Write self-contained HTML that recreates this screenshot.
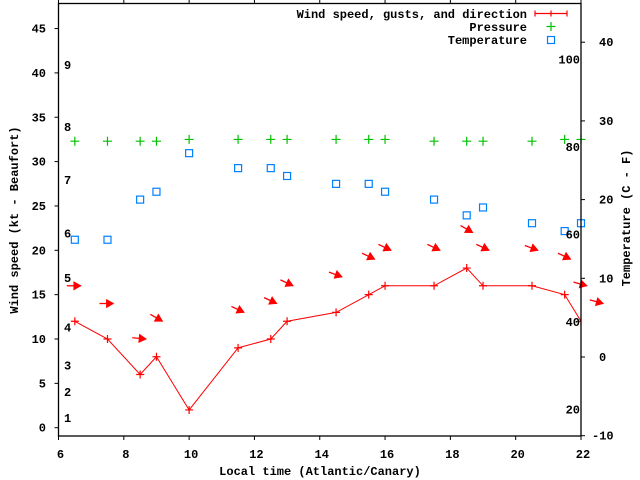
<!DOCTYPE html>
<html><head><meta charset="utf-8"><style>
html,body{margin:0;padding:0;background:#fff;}
svg{display:block;font-family:"Liberation Mono",monospace;font-weight:bold;font-size:12px;}
</style></head><body>
<svg id="chart" width="640" height="480" viewBox="0 0 640 480" xmlns="http://www.w3.org/2000/svg">
<rect x="0" y="0" width="640" height="480" fill="#fff"/>
<defs><clipPath id="clip"><rect x="58.5" y="3.5" width="522.5" height="432.5"/></clipPath></defs>
<g id="grid"></g>
<g id="marks"></g>
<g id="axes"></g>
</svg>
<script>
const times = [6.5,7.5,8.5,9,10,11.5,12.5,13,14.5,15.5,16,17.5,18.5,19,20.5,21.5,22];
const windKt = [12,10,6,8,2,9,10,12,13,15,16,16,18,16,16,15,12];
const pressureKt = [32.3,32.3,32.3,32.3,32.5,32.5,32.5,32.5,32.5,32.5,32.5,32.3,32.3,32.3,32.3,32.5,32.5];
const tempC = [14.9,14.9,20,21,25.9,24,24,23,22,22,21,20,18,19,17,16,17];
const arrowTimes = [6.5,7.5,8.5,9,11.5,12.5,13,14.5,15.5,16,17.5,18.5,19,20.5,21.5,22,22.5];
const arrowKt = [16,14,10,12,13,14,16,17,19,20,20,22,20,20,19,16,14];
const arrowAngle = [0,0,5,30,25,25,25,20,25,25,25,30,25,20,25,15,15];
const xTicks = [6,8,10,12,14,16,18,20,22];
const yTicks = [0,5,10,15,20,25,30,35,40,45];
const y2Ticks = [-10,0,10,20,30,40];
const fahrenheit = [20,40,60,80,100];
const beaufortLabels = ['1','2','3','4','5','6','7','8','9'];
const beaufortKt = [1.1,4,7,11.3,16.9,21.9,27.9,33.9,40.9];

const X0=58.5,X1=581,Y0=436,Y1=3.5;
const xs=t=>X0+(t-6)/16*(X1-X0);
const ys=k=>427.7-k*8.87;
const yc=c=>357-c*7.87;
const NS="http://www.w3.org/2000/svg";
function mk(tag,attrs,parent,text){const e=document.createElementNS(NS,tag);for(const k in attrs)e.setAttribute(k,attrs[k]);if(text!==undefined)e.textContent=text;parent.appendChild(e);return e;}
const axes=document.getElementById('axes'), marks=document.getElementById('marks');
const clipG=mk('g',{'clip-path':'url(#clip)'},marks);

const frame=mk('rect',{x:X0,y:Y1,width:X1-X0,height:Y0-Y1,fill:'none',stroke:'#000','stroke-width':1.3},axes);



xTicks.forEach(t=>{
  const x=xs(t);
  mk('line',{x1:x,y1:Y0,x2:x,y2:Y0+4,stroke:'#000'},axes);
  mk('line',{x1:x,y1:Y1,x2:x,y2:Y1-4,stroke:'#000'},axes);
  const l=mk('text',{x:x+2,y:458,'text-anchor':'middle'},axes,String(t));
  
  
});
yTicks.forEach(v=>{
  const y=ys(v);
  mk('line',{x1:X0,y1:y,x2:X0-4,y2:y,stroke:'#000'},axes);
  const l=mk('text',{x:46,y:y+4,'text-anchor':'end'},axes,String(v));
  
  
});
y2Ticks.forEach(v=>{
  const y=yc(v);
  mk('line',{x1:X1,y1:y,x2:X1+4,y2:y,stroke:'#000'},axes);
  const l=mk('text',{x:v<0?592:599,y:y+4},axes,String(v));
  
  
});
fahrenheit.forEach(f=>{
  const c=(f-32)*5/9;
  const l=mk('text',{x:580,y:yc(c)+4,'text-anchor':'end'},axes,String(f));
  
  
});
beaufortLabels.forEach((b,i)=>{
  const l=mk('text',{x:64,y:ys(beaufortKt[i])+4},axes,b);
  
  
});

const pts=times.map((t,i)=>xs(t)+','+ys(windKt[i])).join(' ');
const wl=mk('polyline',{points:pts,fill:'none',stroke:'#f00','stroke-width':1},clipG);


times.forEach((t,i)=>{
  const x=xs(t),y=ys(windKt[i]);
  const g=mk('path',{d:`M${x-4},${y}h8M${x},${y-4}v8`,stroke:'#f00','stroke-width':1.2},clipG);
  
  
});
arrowTimes.forEach((t,i)=>{
  const a=arrowAngle[i]*Math.PI/180;
  const hx=xs(t)+6,hy=ys(arrowKt[i]);
  const tx=hx-14*Math.cos(a),ty=hy-14*Math.sin(a);
  const g=mk('g',{},marks);
  
  
  mk('line',{x1:tx,y1:ty,x2:hx,y2:hy,stroke:'#f00','stroke-width':1.3},g);
  const ux=Math.cos(a),uy=Math.sin(a);
  const bx=hx-7*ux,by=hy-7*uy;
  mk('polygon',{points:`${hx},${hy} ${bx-4*uy},${by+4*ux} ${bx+4*uy},${by-4*ux}`,fill:'#f00',stroke:'#f00','stroke-width':0.8},g);
});
times.forEach((t,i)=>{
  const x=xs(t),y=ys(pressureKt[i]);
  const p=mk('path',{d:`M${x-4.5},${y}h9M${x},${y-4.5}v9`,stroke:'#00c000','stroke-width':1.2},marks);
  
  
});
times.forEach((t,i)=>{
  const x=xs(t),y=yc(tempC[i]);
  const s=mk('rect',{x:x-3.5,y:y-3.5,width:7,height:7,fill:'none',stroke:'#0080ff','stroke-width':1.2},marks);
  
  
});

const legend=mk('g',{},axes);


[['Wind speed, gusts, and direction',14],['Pressure',27],['Temperature',40]].forEach(([txt,y])=>{
  const l=mk('text',{x:527,y:y+4,'text-anchor':'end'},legend,txt);
  
  
});
mk('path',{d:'M535,13.5h32M535,10.5v6M567,10.5v6M551,10.5v6',stroke:'#f00','stroke-width':1.2},legend);
mk('path',{d:'M546.5,26.5h9M551,22v9',stroke:'#00c000','stroke-width':1.2},legend);
mk('rect',{x:547.5,y:36.5,width:7,height:7,fill:'none',stroke:'#0080ff','stroke-width':1.2},legend);

const xt=mk('text',{x:320,y:475,'text-anchor':'middle'},axes,'Local time (Atlantic/Canary)');


const yt=mk('text',{x:0,y:0,'text-anchor':'middle',transform:'translate(18,220) rotate(-90)'},axes,'Wind speed (kt - Beaufort)');


const y2t=mk('text',{x:0,y:0,'text-anchor':'middle',transform:'translate(630,218) rotate(-90)'},axes,'Temperature (C - F)');


</script>
</body></html>
